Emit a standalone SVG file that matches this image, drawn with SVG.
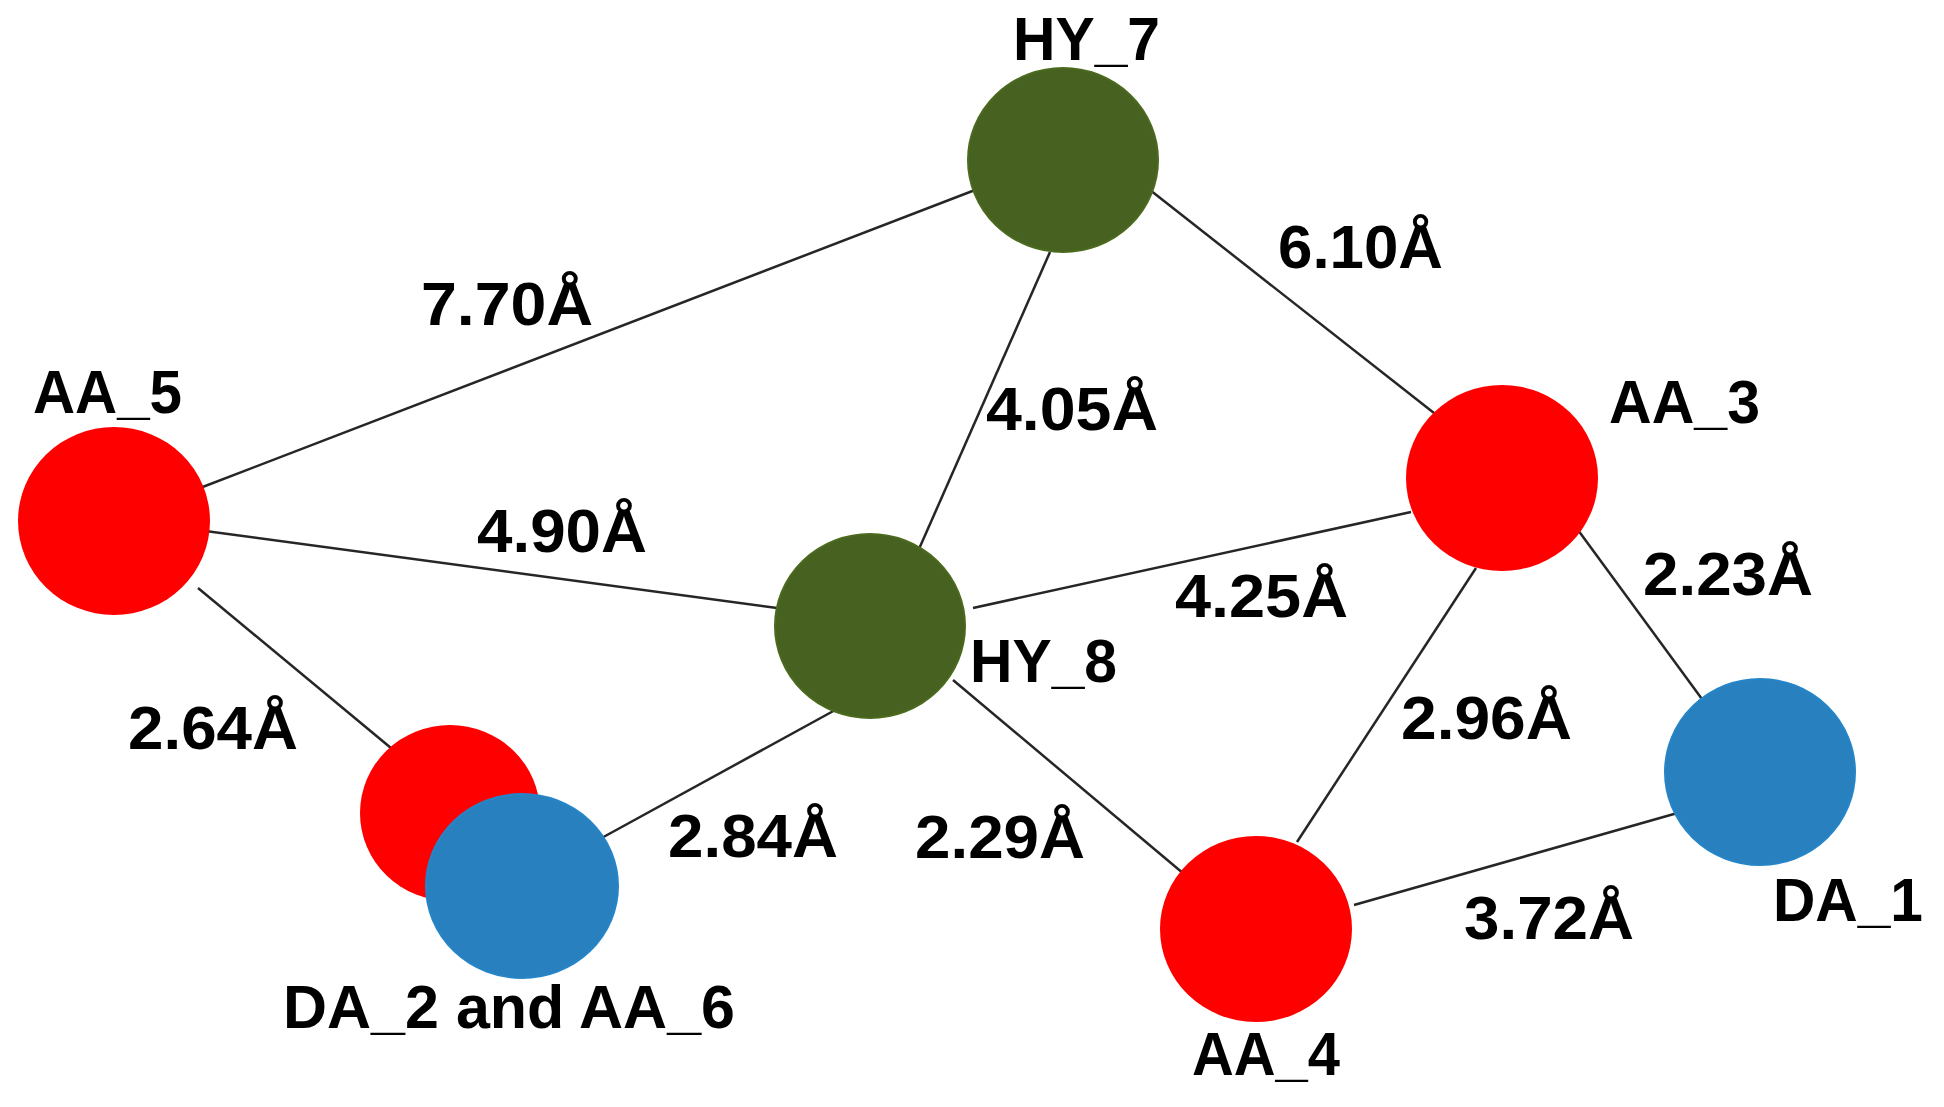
<svg xmlns="http://www.w3.org/2000/svg" width="1944" height="1107" viewBox="0 0 1944 1107">
<style>
.e{stroke:#262626;stroke-width:2.5;fill:none}
.t{font-family:"Liberation Sans",Arial,sans-serif;font-weight:bold;font-size:62px;fill:#000}
.red{fill:#FF0000}
.blue{fill:#2980BE;stroke:#2585C8;stroke-width:2}
.green{fill:#466120;stroke:#4B6A1E;stroke-width:2}
</style>
<rect width="1944" height="1107" fill="#fff"/>
<g id="connectors">
<line class="e" x1="975" y1="190" x2="200" y2="488"/>
<line class="e" x1="198" y1="530" x2="777" y2="608"/>
<line class="e" x1="198" y1="588" x2="397" y2="753"/>
<line class="e" x1="1050" y1="252" x2="919" y2="549"/>
<line class="e" x1="1150" y1="190" x2="1434" y2="413"/>
<line class="e" x1="973" y1="608" x2="1411" y2="512"/>
<line class="e" x1="837" y1="709" x2="598" y2="840"/>
<line class="e" x1="953" y1="680" x2="1184" y2="874"/>
<line class="e" x1="1476" y1="568" x2="1297" y2="842"/>
<line class="e" x1="1578" y1="530" x2="1710" y2="710"/>
<line class="e" x1="1354" y1="905" x2="1681" y2="812"/>
</g>
<g id="edge-labels">
<text class="t" x="421" y="325" textLength="172" lengthAdjust="spacingAndGlyphs">7.70Å</text>
<text class="t" x="1278" y="268" textLength="165" lengthAdjust="spacingAndGlyphs">6.10Å</text>
<text class="t" x="986" y="430" textLength="172" lengthAdjust="spacingAndGlyphs">4.05Å</text>
<text class="t" x="477" y="552" textLength="170" lengthAdjust="spacingAndGlyphs">4.90Å</text>
<text class="t" x="1175" y="617" textLength="173" lengthAdjust="spacingAndGlyphs">4.25Å</text>
<text class="t" x="1643" y="595" textLength="170" lengthAdjust="spacingAndGlyphs">2.23Å</text>
<text class="t" x="1401" y="739" textLength="171" lengthAdjust="spacingAndGlyphs">2.96Å</text>
<text class="t" x="128" y="749" textLength="170" lengthAdjust="spacingAndGlyphs">2.64Å</text>
<text class="t" x="668" y="857" textLength="170" lengthAdjust="spacingAndGlyphs">2.84Å</text>
<text class="t" x="915" y="858" textLength="170" lengthAdjust="spacingAndGlyphs">2.29Å</text>
<text class="t" x="1464" y="939" textLength="170" lengthAdjust="spacingAndGlyphs">3.72Å</text>
</g>
<g id="HY_7">
<ellipse class="green" cx="1063" cy="160" rx="95" ry="92"/>
<text class="t" x="1013" y="60" textLength="147" lengthAdjust="spacingAndGlyphs">HY_7</text>
</g>
<g id="AA_5">
<ellipse class="red" cx="114" cy="521" rx="96" ry="94"/>
<text class="t" x="33" y="413" textLength="149" lengthAdjust="spacingAndGlyphs">AA_5</text>
</g>
<g id="HY_8">
<ellipse class="green" cx="870" cy="626" rx="95" ry="92"/>
<text class="t" x="970" y="682" textLength="147" lengthAdjust="spacingAndGlyphs">HY_8</text>
</g>
<g id="AA_3">
<ellipse class="red" cx="1502" cy="478" rx="96" ry="93"/>
<text class="t" x="1609" y="423" textLength="151" lengthAdjust="spacingAndGlyphs">AA_3</text>
</g>
<g id="DA_1">
<ellipse class="blue" cx="1760" cy="772" rx="95" ry="93"/>
<text class="t" x="1773" y="921" textLength="150" lengthAdjust="spacingAndGlyphs">DA_1</text>
</g>
<g id="AA_4">
<ellipse class="red" cx="1256" cy="929" rx="96" ry="93"/>
<text class="t" x="1192" y="1075" textLength="148" lengthAdjust="spacingAndGlyphs">AA_4</text>
</g>
<g id="DA_2_and_AA_6">
<ellipse class="red" cx="450" cy="813" rx="90" ry="88"/>
<ellipse class="blue" cx="522" cy="886" rx="96" ry="92"/>
<text class="t" x="283" y="1028" textLength="452" lengthAdjust="spacingAndGlyphs">DA_2 and AA_6</text>
</g>
</svg>
